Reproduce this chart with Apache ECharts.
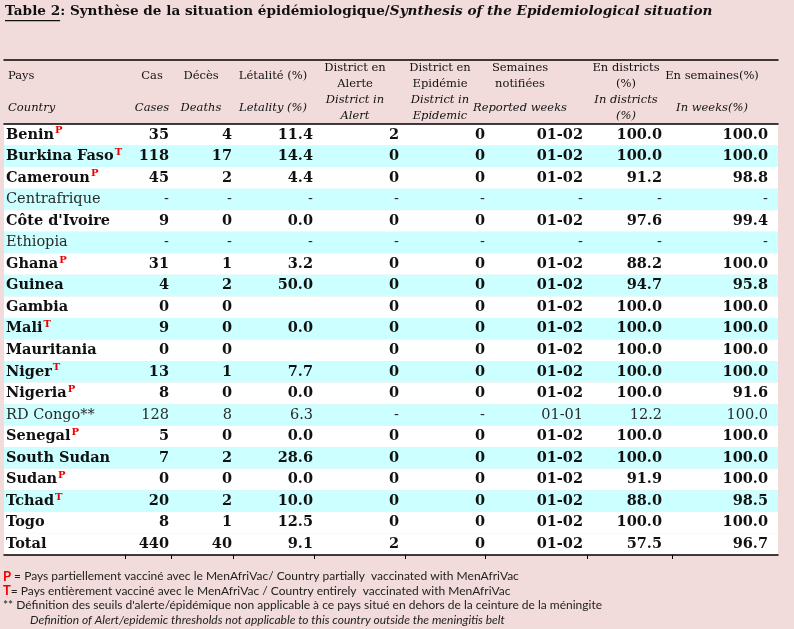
<!DOCTYPE html>
<html>
<head>
<meta charset="utf-8">
<script src="https://cdn.jsdelivr.net/npm/echarts@6.0.0/dist/echarts.min.js"></script>
<style>
  html, body { margin: 0; padding: 0; background: #f2dcdb; }
  #main { width: 794px; height: 629px; }
</style>
</head>
<body>
<div id="main"></div>
<script>
// data
const countries = ['Benin', 'Burkina Faso', 'Cameroun', 'Centrafrique', "Côte d'Ivoire", 'Ethiopia', 'Ghana',
  'Guinea', 'Gambia', 'Mali', 'Mauritania', 'Niger', 'Nigeria', 'RD Congo**', 'Senegal', 'South Sudan',
  'Sudan', 'Tchad', 'Togo', 'Total'];
const vaccMarks = ['P', 'T', 'P', '', '', '', 'P', '', '', 'T', '', 'T', 'P', '', 'P', '', 'P', 'T', '', ''];
const cases = ['35', '118', '45', '-', '9', '-', '31', '4', '0', '9', '0', '13', '8', '128', '5', '7', '0', '20', '8', '440'];
const deaths = ['4', '17', '2', '-', '0', '-', '1', '2', '0', '0', '0', '1', '0', '8', '0', '2', '0', '2', '1', '40'];
const letality = ['11.4', '14.4', '4.4', '-', '0.0', '-', '3.2', '50.0', '', '0.0', '', '7.7', '0.0', '6.3', '0.0', '28.6', '0.0', '10.0', '12.5', '9.1'];
const alertDistricts = ['2', '0', '0', '-', '0', '-', '0', '0', '0', '0', '0', '0', '0', '-', '0', '0', '0', '0', '0', '2'];
const epidemicDistricts = ['0', '0', '0', '-', '0', '-', '0', '0', '0', '0', '0', '0', '0', '-', '0', '0', '0', '0', '0', '0'];
const reportedWeeks = ['01-02', '01-02', '01-02', '-', '01-02', '-', '01-02', '01-02', '01-02', '01-02', '01-02', '01-02',
  '01-02', '01-01', '01-02', '01-02', '01-02', '01-02', '01-02', '01-02'];
const inDistricts = ['100.0', '100.0', '91.2', '-', '97.6', '-', '88.2', '94.7', '100.0', '100.0', '100.0', '100.0',
  '100.0', '12.2', '100.0', '100.0', '91.9', '88.0', '100.0', '57.5'];
const inWeeks = ['100.0', '100.0', '98.8', '-', '99.4', '-', '100.0', '95.8', '100.0', '100.0', '100.0', '100.0',
  '91.6', '100.0', '100.0', '100.0', '100.0', '98.5', '100.0', '96.7'];
const plainRows = ['Centrafrique', 'Ethiopia', 'RD Congo**'];

const headFr = ['Pays', 'Cas', 'Décès', 'Létalité (%)', 'District en\nAlerte', 'District en\nEpidémie',
  'Semaines\nnotifiées', 'En districts\n(%)', 'En semaines(%)'];
const headEn = ['Country', 'Cases', 'Deaths', 'Letality (%)', 'District in\nAlert', 'District in\nEpidemic',
  'Reported weeks', 'In districts\n(%)', 'In weeks(%)'];

const titleText = ['Table 2', ': Synthèse de la situation épidémiologique/', 'Synthesis of the Epidemiological situation'];
const notes = [
  ['P', ' = Pays partiellement vacciné avec le MenAfriVac/ Country partially  vaccinated with MenAfriVac'],
  ['T', '= Pays entièrement vacciné avec le MenAfriVac / Country entirely  vaccinated with MenAfriVac'],
  ['', "** Définition des seuils d'alerte/épidémique non applicable à ce pays situé en dehors de la ceinture de la méningite"],
  ['', 'Definition of Alert/epidemic thresholds not applicable to this country outside the meningitis belt']
];

// layout (x axis runs in page pixels)
const X_MIN = 4, X_MAX = 778;
const colEdges = [125, 171, 233, 314, 405, 485, 587, 672];
const bodyCols = [cases, deaths, letality, alertDistricts, epidemicDistricts, reportedWeeks, inDistricts, inWeeks];
const bodyRight = [169, 232, 313, 399, 485, 583, 662, 768];
const headX = [8, 152, 201, 273, 355, 440, 520, 626, 712];
const SERIF = '"DejaVu Serif", "Liberation Serif", serif';
const SANS = 'Lato, "Liberation Sans", sans-serif';
const BODY_SIZE = 14.5;

function renderHead(params, api) {
  const r = api.value(0);
  const yc = api.coord([X_MIN, r])[1];
  const texts = r === 0 ? headFr : headEn;
  return {
    type: 'group',
    children: texts.map(function (t, c) {
      return {
        type: 'text',
        x: api.coord([headX[c], r])[0],
        y: yc,
        style: {
          text: t,
          align: c === 0 ? 'left' : 'center',
          verticalAlign: 'middle',
          fontFamily: SERIF,
          fontSize: 11.5,
          fontStyle: r === 0 ? 'normal' : 'italic',
          lineHeight: 16,
          fill: '#111'
        }
      };
    })
  };
}

function renderRow(params, api) {
  const i = api.value(0);
  const p0 = api.coord([X_MIN, i]);
  const p1 = api.coord([X_MAX, i]);
  const h = api.size([0, 1])[1];
  const yc = p0[1];
  const bold = plainRows.indexOf(countries[i]) < 0;
  const striped = i % 2 === 1 && countries[i] !== 'Total';
  const weight = bold ? 'bold' : 'normal';
  const color = bold ? '#111' : '#2a2a2a';
  const children = [{
    type: 'rect',
    shape: { x: p0[0], y: yc - h / 2, width: p1[0] - p0[0], height: h },
    style: { fill: striped ? '#ccffff' : '#ffffff' }
  }];
  let label = '{n|' + countries[i] + '}';
  if (vaccMarks[i]) label += '{s|' + vaccMarks[i] + '}';
  children.push({
    type: 'text',
    x: api.coord([6, i])[0],
    y: yc,
    style: {
      text: label,
      align: 'left',
      verticalAlign: 'middle',
      rich: {
        n: { fontFamily: SERIF, fontSize: BODY_SIZE, fontWeight: weight, fill: color, lineHeight: 18, verticalAlign: 'middle' },
        s: { fontFamily: SERIF, fontSize: 10, fontWeight: 'bold', fill: '#ee0000', lineHeight: 18, verticalAlign: 'top', padding: [0, 0, 0, 1] }
      }
    }
  });
  bodyCols.forEach(function (col, c) {
    children.push({
      type: 'text',
      x: api.coord([bodyRight[c], i])[0],
      y: yc,
      style: {
        text: col[i],
        align: 'right',
        verticalAlign: 'middle',
        fontFamily: SERIF,
        fontSize: BODY_SIZE,
        fontWeight: weight,
        fill: color
      }
    });
  });
  return { type: 'group', children: children };
}

// width of the underlined part of the title
const ctx = document.createElement('canvas').getContext('2d');
ctx.font = 'bold 13.6px ' + SERIF;
const underlineW = ctx.measureText(titleText[0]).width;

const chart = echarts.init(document.getElementById('main'));
const axisLine = { show: true, lineStyle: { color: '#000', width: 1.5 } };

chart.setOption({
  backgroundColor: '#f2dcdb',
  animation: false,
  grid: [
    { left: X_MIN, right: 794 - X_MAX, top: 60, height: 64 },
    { left: X_MIN, right: 794 - X_MAX, top: 124, bottom: 74 }
  ],
  xAxis: [
    { gridIndex: 0, type: 'value', min: X_MIN, max: X_MAX, position: 'top', z: 5,
      axisLine: axisLine, axisTick: { show: false }, axisLabel: { show: false }, splitLine: { show: false } },
    { gridIndex: 1, type: 'value', min: X_MIN, max: X_MAX, position: 'top', z: 5,
      axisLine: axisLine, axisTick: { show: false }, axisLabel: { show: false }, splitLine: { show: false } },
    { gridIndex: 1, type: 'value', min: X_MIN, max: X_MAX, position: 'bottom', z: 5,
      axisLine: axisLine,
      axisTick: { show: true, customValues: colEdges, length: 4, lineStyle: { color: '#000', width: 1 } },
      axisLabel: { show: false }, splitLine: { show: false } }
  ],
  yAxis: [
    { gridIndex: 0, type: 'category', data: ['fr', 'en'], inverse: true, show: false },
    { gridIndex: 1, type: 'category', data: countries, inverse: true, show: false }
  ],
  graphic: [
    {
      type: 'text', left: 5, top: 4,
      style: {
        text: '{b|' + titleText[0] + '}{b|' + titleText[1] + '}{i|' + titleText[2] + '}',
        rich: {
          b: { fontFamily: SERIF, fontSize: 13.6, fontWeight: 'bold', fill: '#111' },
          i: { fontFamily: SERIF, fontSize: 13.6, fontWeight: 'bold', fontStyle: 'italic', fill: '#111' }
        }
      }
    },
    { type: 'rect', left: 5, top: 20, shape: { width: underlineW, height: 1.2 }, style: { fill: '#111' } },
    {
      type: 'group', left: 3, top: 570,
      children: notes.map(function (n, k) {
        return {
          type: 'text', x: k === 3 ? 27 : 0, y: k * 14.8,
          style: {
            text: (n[0] ? '{r|' + n[0] + '}' : '') + '{t|' + n[1] + '}',
            rich: {
              r: { fontFamily: SANS, fontSize: 13, fontWeight: 'bold', fill: '#ee0000' },
              t: { fontFamily: SANS, fontSize: 12, fontStyle: k === 3 ? 'italic' : 'normal', fill: '#222' }
            }
          }
        };
      })
    }
  ],
  series: [
    { type: 'custom', xAxisIndex: 0, yAxisIndex: 0, renderItem: renderHead, data: [[0], [1]], silent: true },
    { type: 'custom', xAxisIndex: 2, yAxisIndex: 1, renderItem: renderRow, data: countries.map(function (c, i) { return [i]; }), silent: true }
  ]
});
</script>
</body>
</html>
